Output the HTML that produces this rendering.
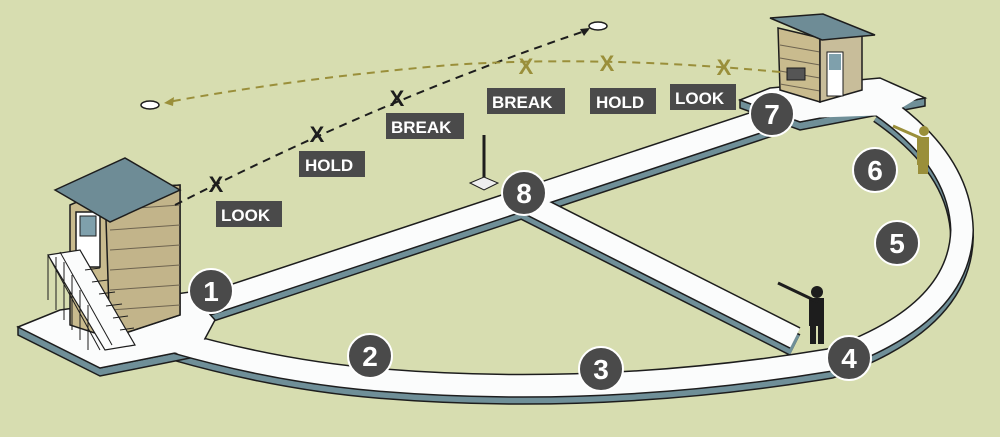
<!DOCTYPE html>
<html><head><style>
html,body{margin:0;padding:0;width:1000px;height:437px;overflow:hidden;background:#d7ddb0}
svg{display:block}
text{font-family:"Liberation Sans",sans-serif;font-weight:bold}
</style></head><body>
<svg width="1000" height="437" viewBox="0 0 1000 437" xmlns="http://www.w3.org/2000/svg">
<rect width="1000" height="437" fill="#d7ddb0"/>
<defs>
<g id="walks">
 <path d="M205,305 L770,118" />
 <path d="M522,200 L795,338" />
 <path d="M175,342 Q280,372 380,380 Q600,398 830,360 Q960,315 962,230 Q960,160 880,105" />
</g>
</defs>
<g transform="translate(0,7)" fill="none">
 <g stroke="#1d1d1d" stroke-width="24"><use href="#walks"/></g>
 <g stroke="#6f8f98" stroke-width="21"><use href="#walks"/></g>
</g>
<polygon points="18,327 18,335 100,376 200,356 200,348 100,368" fill="#6f8f98" stroke="#1d1d1d" stroke-width="1.5"/>
<polygon points="740,100 740,108 800,130 925,106 925,98 800,122" fill="#6f8f98" stroke="#1d1d1d" stroke-width="1.5"/>
<g fill="none">
 <g stroke="#1d1d1d" stroke-width="24"><use href="#walks"/></g>
 <g stroke="#fbfcfc" stroke-width="21"><use href="#walks"/></g>
</g>
<polygon points="18,327 60,310 190,292 215,320 200,348 100,368" fill="#fbfcfc" stroke="#1d1d1d" stroke-width="1.5"/>
<polygon points="740,100 770,88 880,78 925,98 800,122" fill="#fbfcfc" stroke="#1d1d1d" stroke-width="1.5"/>
<path d="M205,305 L770,118 M522,200 L795,338 M175,342 Q280,372 380,380 Q600,398 830,360 Q960,315 962,230 Q960,160 880,105" fill="none" stroke="#fbfcfc" stroke-width="20"/>
<polygon points="40,325 180,296 205,325 190,350 100,360" fill="#fbfcfc"/>
<polygon points="760,100 880,82 918,98 890,115 805,118" fill="#fbfcfc"/>

<!-- left house -->
<polygon points="70,205 105,190 180,185 180,315 110,338 70,325" fill="#c9bb8e" stroke="#1d1d1d" stroke-width="1.5"/>
<polygon points="105,190 180,185 180,315 110,338" fill="#c2b48a" stroke="#1d1d1d" stroke-width="1.5"/>
<g stroke="#6e6450" stroke-width="1">
 <line x1="110" y1="210" x2="180" y2="205"/><line x1="110" y1="230" x2="180" y2="225"/><line x1="110" y1="250" x2="180" y2="245"/>
 <line x1="110" y1="270" x2="180" y2="265"/><line x1="110" y1="290" x2="180" y2="285"/><line x1="110" y1="310" x2="180" y2="305"/>
</g>
<rect x="76" y="212" width="24" height="55" fill="#fff" stroke="#1d1d1d" stroke-width="1.5"/>
<rect x="80" y="216" width="16" height="20" fill="#7fa0ac" stroke="#1d1d1d"/>
<polygon points="55,190 125,158 180,190 110,222" fill="#6e8c96" stroke="#1d1d1d" stroke-width="1.5"/>
<polygon points="48,255 80,250 135,345 105,350" fill="#fbfcfc" stroke="#1d1d1d" stroke-width="1.2"/>
<g stroke="#1d1d1d" stroke-width="1">
 <line x1="85" y1="270" x2="100" y2="268"/><line x1="92" y1="282" x2="108" y2="280"/><line x1="99" y1="294" x2="115" y2="292"/>
 <line x1="106" y1="306" x2="122" y2="304"/><line x1="113" y1="318" x2="128" y2="316"/><line x1="120" y1="330" x2="134" y2="328"/>
 <line x1="48" y1="255" x2="48" y2="300"/><line x1="56" y1="257" x2="56" y2="310"/><line x1="64" y1="262" x2="64" y2="320"/>
 <line x1="72" y1="275" x2="72" y2="330"/><line x1="80" y1="290" x2="80" y2="340"/><line x1="88" y1="305" x2="88" y2="350"/>
 <line x1="48" y1="255" x2="100" y2="350"/><line x1="60" y1="252" x2="112" y2="345"/>
</g>

<!-- right house -->
<polygon points="778,28 820,38 820,102 780,90" fill="#c9bb8e" stroke="#1d1d1d" stroke-width="1.5"/>
<g stroke="#6e6450" stroke-width="1"><line x1="780" y1="45" x2="820" y2="52"/><line x1="780" y1="58" x2="820" y2="65"/><line x1="780" y1="71" x2="820" y2="78"/><line x1="780" y1="84" x2="820" y2="91"/></g>
<polygon points="820,38 862,32 862,90 820,102" fill="#c8bd9a" stroke="#1d1d1d" stroke-width="1.5"/>
<rect x="827" y="52" width="16" height="44" fill="#fff" stroke="#1d1d1d"/>
<rect x="829" y="54" width="12" height="16" fill="#7fa0ac"/>
<rect x="787" y="68" width="18" height="12" fill="#555" stroke="#1d1d1d"/>
<polygon points="770,18 823,14 875,35 822,40" fill="#6e8c96" stroke="#1d1d1d" stroke-width="1.5"/>

<line x1="484" y1="135" x2="484" y2="182" stroke="#1d1d1d" stroke-width="3"/>
<polygon points="470,183 484,177 498,183 484,190" fill="#eee" stroke="#1d1d1d"/>

<path d="M175,205 Q380,100 588,30" fill="none" stroke="#1d1d1d" stroke-width="2" stroke-dasharray="8,6"/>
<polygon points="590,28 580,29 584,36" fill="#1d1d1d"/>
<path d="M780,72 Q600,55 450,65 Q300,78 168,102" fill="none" stroke="#9a8f3a" stroke-width="2" stroke-dasharray="8,6"/>
<polygon points="164,103 174,97 173,106" fill="#9a8f3a"/>
<ellipse cx="598" cy="26" rx="9" ry="4" fill="#fff" stroke="#1d1d1d" stroke-width="1.5"/>
<ellipse cx="150" cy="105" rx="9" ry="4" fill="#fff" stroke="#1d1d1d" stroke-width="1.5"/>
<g font-size="22" text-anchor="middle">
 <text x="216" y="192" fill="#1d1d1d">X</text><text x="317" y="142" fill="#1d1d1d">X</text><text x="397" y="106" fill="#1d1d1d">X</text>
 <text x="526" y="74" fill="#9a8f3a">X</text><text x="607" y="71" fill="#9a8f3a">X</text><text x="724" y="75" fill="#9a8f3a">X</text>
</g>
<g font-size="17" fill="#fff">
 <rect x="216" y="201" width="66" height="26" fill="#4a4a4a"/><text x="221" y="221">LOOK</text>
 <rect x="299" y="151" width="66" height="26" fill="#4a4a4a"/><text x="305" y="171">HOLD</text>
 <rect x="386" y="113" width="78" height="26" fill="#4a4a4a"/><text x="391" y="133">BREAK</text>
 <rect x="487" y="88" width="78" height="26" fill="#4a4a4a"/><text x="492" y="108">BREAK</text>
 <rect x="590" y="88" width="66" height="26" fill="#4a4a4a"/><text x="596" y="108">HOLD</text>
 <rect x="670" y="84" width="66" height="26" fill="#4a4a4a"/><text x="675" y="104">LOOK</text>
</g>

<g fill="#9a8f3a">
 <rect x="917" y="137" width="12" height="28"/><circle cx="924" cy="131" r="5"/>
 <line x1="893" y1="126" x2="925" y2="140" stroke="#9a8f3a" stroke-width="3"/>
 <rect x="918" y="162" width="10" height="12"/>
</g>
<g fill="#1d1d1d">
 <rect x="809" y="298" width="15" height="28"/><circle cx="817" cy="292" r="6"/>
 <rect x="810" y="324" width="6" height="20"/><rect x="818" y="324" width="6" height="20"/>
 <line x1="778" y1="283" x2="818" y2="302" stroke="#1d1d1d" stroke-width="3"/>
</g>

<g stroke="#fff" stroke-width="2" fill="#4a4a4a">
 <circle cx="211" cy="291" r="22"/><circle cx="370" cy="356" r="22"/><circle cx="601" cy="369" r="22"/>
 <circle cx="849" cy="358" r="22"/><circle cx="897" cy="243" r="22"/><circle cx="875" cy="170" r="22"/>
 <circle cx="772" cy="114" r="22"/><circle cx="524" cy="193" r="22"/>
</g>
<g fill="#fff" font-size="28" text-anchor="middle">
 <text x="211" y="301">1</text><text x="370" y="366">2</text><text x="601" y="379">3</text>
 <text x="849" y="368">4</text><text x="897" y="253">5</text><text x="875" y="180">6</text>
 <text x="772" y="124">7</text><text x="524" y="203">8</text>
</g>
</svg>
</body></html>
